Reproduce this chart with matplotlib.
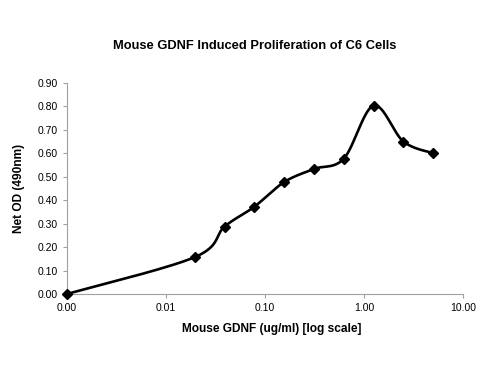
import numpy as np
import matplotlib
matplotlib.use("Agg")
import matplotlib.pyplot as plt

plt.rcParams['font.family'] = ['Liberation Sans', 'DejaVu Sans']

# GDNF concentration (ug/ml); the zero dose is drawn at the left end of the log axis
conc = [0.001, 0.0195, 0.039, 0.078, 0.156, 0.3125, 0.625, 1.25, 2.5, 5.0]
net_od = [0.0, 0.157, 0.287, 0.372, 0.477, 0.533, 0.577, 0.803, 0.65, 0.60]

x_ticks = [0.001, 0.01, 0.1, 1, 10]
x_tick_labels = ["0.00", "0.01", "0.10", "1.00", "10.00"]
y_ticks = [0.0, 0.1, 0.2, 0.3, 0.4, 0.5, 0.6, 0.7, 0.8, 0.9]


# Excel-style smoothed line: cubic Bezier through the points in (log x, y) space
def smooth_curve(xs, ys, n=40):
    u = np.log10(np.asarray(xs, dtype=float))
    v = np.asarray(ys, dtype=float)
    pts = np.column_stack([u, v])
    out = []
    for i in range(len(pts) - 1):
        p0 = pts[i - 1] if i > 0 else pts[i]
        p1 = pts[i]
        p2 = pts[i + 1]
        p3 = pts[i + 2] if i + 2 < len(pts) else pts[i + 1]
        c1 = p1 + (p2 - p0) / 6.0
        c2 = p2 - (p3 - p1) / 6.0
        t = np.linspace(0, 1, n)[:, None]
        seg = ((1 - t) ** 3) * p1 + 3 * ((1 - t) ** 2) * t * c1 + 3 * (1 - t) * t ** 2 * c2 + t ** 3 * p2
        out.append(seg if i == 0 else seg[1:])
    curve = np.vstack(out)
    return 10 ** curve[:, 0], curve[:, 1]


fig = plt.figure(figsize=(5, 3.75), dpi=100)
ax = fig.add_axes([0.134, 0.216, 0.792, 0.563])

sx, sy = smooth_curve(conc, net_od)
ax.plot(sx, sy, color="black", linewidth=1.9, zorder=2)
ax.plot(conc, net_od, linestyle="none", marker="D", markersize=5.5,
        color="black", zorder=3, clip_on=False)

ax.set_xscale("log")
ax.set_xlim(0.001, 10)
ax.set_ylim(0, 0.9)
ax.set_xticks(x_ticks)
ax.set_xticklabels(x_tick_labels)
ax.xaxis.set_minor_locator(matplotlib.ticker.NullLocator())
ax.set_yticks(y_ticks)
ax.set_yticklabels([f"{v:.2f}" for v in y_ticks])

for side in ("top", "right"):
    ax.spines[side].set_visible(False)
for side in ("left", "bottom"):
    ax.spines[side].set_color("#a0a0a0")
    ax.spines[side].set_linewidth(0.8)
ax.tick_params(axis="both", colors="#a0a0a0", labelcolor="black",
               labelsize=7.5, length=3, width=0.8)

ax.set_xlabel("Mouse GDNF (ug/ml) [log scale]", fontsize=8.6, fontweight="bold")
ax.xaxis.set_label_coords(0.518, -0.135)
ax.set_ylabel("Net OD (490nm)", fontsize=8.6, fontweight="bold", labelpad=9)
fig.text(0.51, 0.877, "Mouse GDNF Induced Proliferation of C6 Cells",
         ha="center", va="center", fontsize=9.3, fontweight="bold")

fig.savefig("out.png", dpi=100)
